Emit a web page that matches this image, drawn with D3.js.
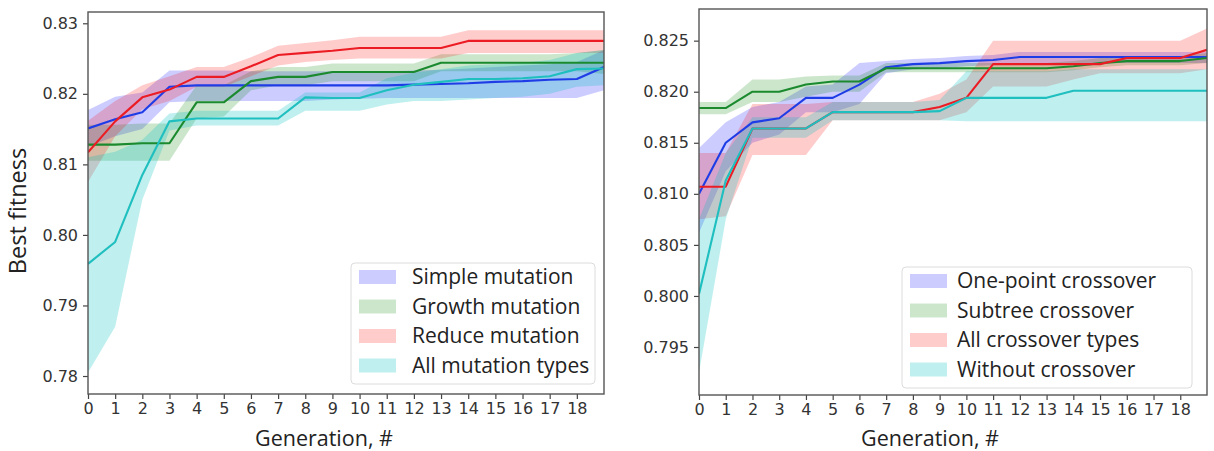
<!DOCTYPE html>
<html>
<head>
<meta charset="utf-8">
<script src="https://cdn.jsdelivr.net/npm/d3@7"></script>
<style>
  html, body { margin: 0; padding: 0; background: #fff; }
  svg { display: block; }
  .tick text { font-family: "DejaVu Sans", sans-serif; font-size: 16px; fill: #333; }
  .axis-title { font-family: "Open Sans", sans-serif; font-size: 21.5px; fill: #222; }
  .y-title { font-size: 23.5px; }
  .legend text { font-family: "Open Sans", sans-serif; font-size: 21px; fill: #222; }
</style>
</head>
<body>
<svg id="chart" width="1214" height="451"></svg>
<script>
// Generations 0..19
const generations = d3.range(20);
const xTicks = d3.range(19);

// ---- Mutation operators (left panel) ----
const mutationNames = ["Simple mutation", "Growth mutation", "Reduce mutation", "All mutation types"];
const simpleMean = [0.8151, 0.8164, 0.8174, 0.8210, 0.8212, 0.8212, 0.8212, 0.8212, 0.8212, 0.8212, 0.8212, 0.8212, 0.8213, 0.8214, 0.8215, 0.8217, 0.8218, 0.8220, 0.8221, 0.8238];
const simpleLo   = [0.8125, 0.8140, 0.8150, 0.8188, 0.8190, 0.8190, 0.8190, 0.8190, 0.8190, 0.8192, 0.8193, 0.8194, 0.8194, 0.8194, 0.8194, 0.8194, 0.8194, 0.8194, 0.8194, 0.8205];
const simpleHi   = [0.8177, 0.8196, 0.8202, 0.8233, 0.8233, 0.8233, 0.8232, 0.8232, 0.8232, 0.8232, 0.8232, 0.8232, 0.8233, 0.8234, 0.8236, 0.8238, 0.8240, 0.8242, 0.8245, 0.8262];
const growthMean = [0.8128, 0.8128, 0.8130, 0.8130, 0.8188, 0.8188, 0.8218, 0.8224, 0.8224, 0.8231, 0.8231, 0.8231, 0.8231, 0.8244, 0.8244, 0.8244, 0.8244, 0.8244, 0.8244, 0.8244];
const growthLo   = [0.8105, 0.8105, 0.8105, 0.8105, 0.8165, 0.8168, 0.8205, 0.8212, 0.8212, 0.8218, 0.8218, 0.8218, 0.8218, 0.8232, 0.8232, 0.8232, 0.8232, 0.8232, 0.8232, 0.8228];
const growthHi   = [0.8156, 0.8156, 0.8158, 0.8158, 0.8212, 0.8212, 0.8232, 0.8238, 0.8238, 0.8243, 0.8243, 0.8243, 0.8243, 0.8256, 0.8256, 0.8256, 0.8256, 0.8256, 0.8258, 0.8262];
const reduceMean = [0.8117, 0.8161, 0.8195, 0.8206, 0.8224, 0.8224, 0.8239, 0.8255, 0.8258, 0.8261, 0.8265, 0.8265, 0.8265, 0.8265, 0.8275, 0.8275, 0.8275, 0.8275, 0.8275, 0.8275];
const reduceLo   = [0.8075, 0.8140, 0.8178, 0.8190, 0.8210, 0.8210, 0.8225, 0.8240, 0.8245, 0.8248, 0.8250, 0.8250, 0.8250, 0.8250, 0.8258, 0.8258, 0.8258, 0.8258, 0.8258, 0.8258];
const reduceHi   = [0.8162, 0.8190, 0.8212, 0.8225, 0.8238, 0.8238, 0.8252, 0.8268, 0.8272, 0.8276, 0.8281, 0.8281, 0.8281, 0.8281, 0.8290, 0.8290, 0.8290, 0.8290, 0.8290, 0.8290];
const allMutMean = [0.7959, 0.7990, 0.8085, 0.8161, 0.8165, 0.8165, 0.8165, 0.8165, 0.8195, 0.8194, 0.8194, 0.8205, 0.8213, 0.8217, 0.8221, 0.8221, 0.8222, 0.8225, 0.8235, 0.8236];
const allMutLo   = [0.7805, 0.7870, 0.8050, 0.8148, 0.8155, 0.8155, 0.8155, 0.8155, 0.8176, 0.8176, 0.8176, 0.8185, 0.8190, 0.8190, 0.8192, 0.8194, 0.8196, 0.8200, 0.8210, 0.8212];
const allMutHi   = [0.8110, 0.8118, 0.8135, 0.8172, 0.8176, 0.8176, 0.8176, 0.8176, 0.8202, 0.8202, 0.8202, 0.8222, 0.8230, 0.8235, 0.8240, 0.8242, 0.8244, 0.8248, 0.8258, 0.8262];
const mutationTicks = [0.78, 0.79, 0.80, 0.81, 0.82, 0.83];

// ---- Crossover operators (right panel) ----
const crossoverNames = ["One-point crossover", "Subtree crossover", "All crossover types", "Without crossover"];
const onePointMean = [0.8100, 0.8150, 0.8170, 0.8174, 0.8194, 0.8194, 0.8207, 0.8224, 0.8227, 0.8228, 0.8230, 0.8231, 0.8234, 0.8234, 0.8234, 0.8234, 0.8234, 0.8234, 0.8234, 0.8234];
const onePointLo   = [0.8062, 0.8122, 0.8150, 0.8158, 0.8180, 0.8180, 0.8188, 0.8218, 0.8222, 0.8223, 0.8225, 0.8226, 0.8228, 0.8228, 0.8228, 0.8228, 0.8228, 0.8228, 0.8228, 0.8228];
const onePointHi   = [0.8145, 0.8170, 0.8185, 0.8190, 0.8205, 0.8207, 0.8228, 0.8230, 0.8232, 0.8233, 0.8235, 0.8236, 0.8239, 0.8239, 0.8239, 0.8239, 0.8239, 0.8239, 0.8239, 0.8239];
const subtreeMean  = [0.8184, 0.8184, 0.8200, 0.8200, 0.8207, 0.8210, 0.8210, 0.8223, 0.8223, 0.8223, 0.8223, 0.8223, 0.8223, 0.8223, 0.8225, 0.8228, 0.8230, 0.8230, 0.8230, 0.8233];
const subtreeLo    = [0.8178, 0.8178, 0.8190, 0.8190, 0.8195, 0.8200, 0.8200, 0.8219, 0.8219, 0.8219, 0.8219, 0.8219, 0.8219, 0.8219, 0.8221, 0.8224, 0.8226, 0.8226, 0.8226, 0.8228];
const subtreeHi    = [0.8190, 0.8190, 0.8212, 0.8212, 0.8215, 0.8216, 0.8216, 0.8228, 0.8228, 0.8228, 0.8228, 0.8228, 0.8228, 0.8228, 0.8230, 0.8233, 0.8235, 0.8235, 0.8235, 0.8238];
const allCrossMean = [0.8107, 0.8107, 0.8164, 0.8164, 0.8164, 0.8180, 0.8180, 0.8180, 0.8180, 0.8185, 0.8194, 0.8227, 0.8227, 0.8227, 0.8227, 0.8227, 0.8233, 0.8233, 0.8233, 0.8241];
const allCrossLo   = [0.8075, 0.8078, 0.8138, 0.8138, 0.8138, 0.8172, 0.8172, 0.8172, 0.8172, 0.8172, 0.8180, 0.8205, 0.8205, 0.8205, 0.8212, 0.8218, 0.8218, 0.8218, 0.8218, 0.8222];
const allCrossHi   = [0.8140, 0.8140, 0.8188, 0.8188, 0.8188, 0.8190, 0.8190, 0.8190, 0.8190, 0.8198, 0.8212, 0.8250, 0.8250, 0.8250, 0.8250, 0.8250, 0.8250, 0.8250, 0.8250, 0.8262];
const withoutMean  = [0.8002, 0.8113, 0.8164, 0.8164, 0.8164, 0.8180, 0.8180, 0.8180, 0.8180, 0.8181, 0.8194, 0.8194, 0.8194, 0.8194, 0.8201, 0.8201, 0.8201, 0.8201, 0.8201, 0.8201];
const withoutLo    = [0.7925, 0.8075, 0.8155, 0.8155, 0.8155, 0.8172, 0.8172, 0.8172, 0.8172, 0.8172, 0.8171, 0.8171, 0.8171, 0.8171, 0.8171, 0.8171, 0.8171, 0.8171, 0.8171, 0.8171];
const withoutHi    = [0.8075, 0.8140, 0.8175, 0.8175, 0.8175, 0.8190, 0.8190, 0.8190, 0.8190, 0.8192, 0.8220, 0.8220, 0.8220, 0.8220, 0.8222, 0.8222, 0.8222, 0.8222, 0.8222, 0.8222];
const crossoverTicks = [0.795, 0.800, 0.805, 0.810, 0.815, 0.820, 0.825];

const lineColors = ["#1f3de6", "#1b8a2e", "#ec1c24", "#1fbfbf"];
const bandColors = ["#0000ff", "#008000", "#ff0000", "#00bfbf"];
const bandOpacity = [0.2, 0.2, 0.2, 0.25];

const svg = d3.select("#chart");

function drawPanel(cfg) {
  const x = d3.scaleLinear().domain([0, 19]).range([cfg.left, cfg.right]);
  const y = d3.scaleLinear().domain(cfg.yDomain).range([cfg.bottom, cfg.top]);
  const g = svg.append("g");

  const clipId = "clip-" + cfg.id;
  g.append("clipPath").attr("id", clipId).append("rect")
    .attr("x", cfg.left).attr("y", cfg.top)
    .attr("width", cfg.right - cfg.left).attr("height", cfg.bottom - cfg.top);
  const plot = g.append("g").attr("clip-path", `url(#${clipId})`);

  // confidence bands
  cfg.series.forEach((s, k) => {
    const a = d3.area()
      .x(i => x(generations[i]))
      .y0(i => y(s.lo[i]))
      .y1(i => y(s.hi[i]));
    plot.append("path")
      .attr("d", a(generations))
      .attr("fill", bandColors[k])
      .attr("fill-opacity", bandOpacity[k]);
  });

  // mean lines
  cfg.series.forEach((s, k) => {
    const l = d3.line().x(i => x(generations[i])).y(i => y(s.mean[i]));
    plot.append("path")
      .attr("d", l(generations))
      .attr("fill", "none")
      .attr("stroke", lineColors[k])
      .attr("stroke-width", 2.1)
      .attr("stroke-linejoin", "round");
  });

  // axes
  const xAxis = d3.axisBottom(x).tickValues(xTicks).tickFormat(d3.format("d")).tickSize(5).tickPadding(4);
  const yAxis = d3.axisLeft(y).tickValues(cfg.yTicks).tickFormat(d3.format(cfg.yFormat)).tickSize(5).tickPadding(5);
  const xg = g.append("g").attr("transform", `translate(0,${cfg.bottom})`).call(xAxis);
  const yg = g.append("g").attr("transform", `translate(${cfg.left},0)`).call(yAxis);
  [xg, yg].forEach(a => {
    a.select(".domain").remove();
    a.selectAll(".tick line").attr("stroke", "#444").attr("stroke-width", 1.2);
  });

  // frame
  g.append("rect")
    .attr("x", cfg.left).attr("y", cfg.top)
    .attr("width", cfg.right - cfg.left).attr("height", cfg.bottom - cfg.top)
    .attr("fill", "none").attr("stroke", "#555").attr("stroke-width", 1.4);

  // x title
  g.append("text").attr("class", "axis-title")
    .attr("x", cfg.xTitleX).attr("y", 446)
    .text("Generation, #");

  // legend
  const lg = g.append("g").attr("class", "legend");
  lg.append("rect")
    .attr("x", cfg.legend.x).attr("y", cfg.legend.y)
    .attr("width", cfg.legend.w).attr("height", cfg.legend.h)
    .attr("rx", 4).attr("fill", "#fff").attr("fill-opacity", 0.85)
    .attr("stroke", "#dcdcdc").attr("stroke-width", 1);
  cfg.names.forEach((name, k) => {
    const cy = cfg.legend.y + 14 + k * 29.5;
    lg.append("rect")
      .attr("x", cfg.legend.x + 8).attr("y", cy - 7)
      .attr("width", 37).attr("height", 14)
      .attr("fill", bandColors[k]).attr("fill-opacity", bandOpacity[k]);
    lg.append("text")
      .attr("x", cfg.legend.x + cfg.legend.textDx).attr("y", cy)
      .attr("dy", "0.35em")
      .text(name);
  });
}

drawPanel({
  id: "mut",
  left: 88, right: 604, top: 12, bottom: 394,
  yDomain: [0.77745, 0.8316],
  yTicks: mutationTicks, yFormat: ".2f",
  names: mutationNames,
  series: [
    { mean: simpleMean, lo: simpleLo, hi: simpleHi },
    { mean: growthMean, lo: growthLo, hi: growthHi },
    { mean: reduceMean, lo: reduceLo, hi: reduceHi },
    { mean: allMutMean, lo: allMutLo, hi: allMutHi }
  ],
  xTitleX: 255,
  legend: { x: 351, y: 263, w: 244, h: 121, textDx: 61 }
});

drawPanel({
  id: "cross",
  left: 699, right: 1207, top: 9, bottom: 395,
  yDomain: [0.7903, 0.8281],
  yTicks: crossoverTicks, yFormat: ".3f",
  names: crossoverNames,
  series: [
    { mean: onePointMean, lo: onePointLo, hi: onePointHi },
    { mean: subtreeMean, lo: subtreeLo, hi: subtreeHi },
    { mean: allCrossMean, lo: allCrossLo, hi: allCrossHi },
    { mean: withoutMean, lo: withoutLo, hi: withoutHi }
  ],
  xTitleX: 861,
  legend: { x: 902, y: 267, w: 290, h: 121, textDx: 55 }
});

// shared y title
svg.append("text").attr("class", "axis-title y-title")
  .attr("transform", "translate(26,211) rotate(-90)")
  .attr("text-anchor", "middle")
  .text("Best fitness");
</script>
</body>
</html>
